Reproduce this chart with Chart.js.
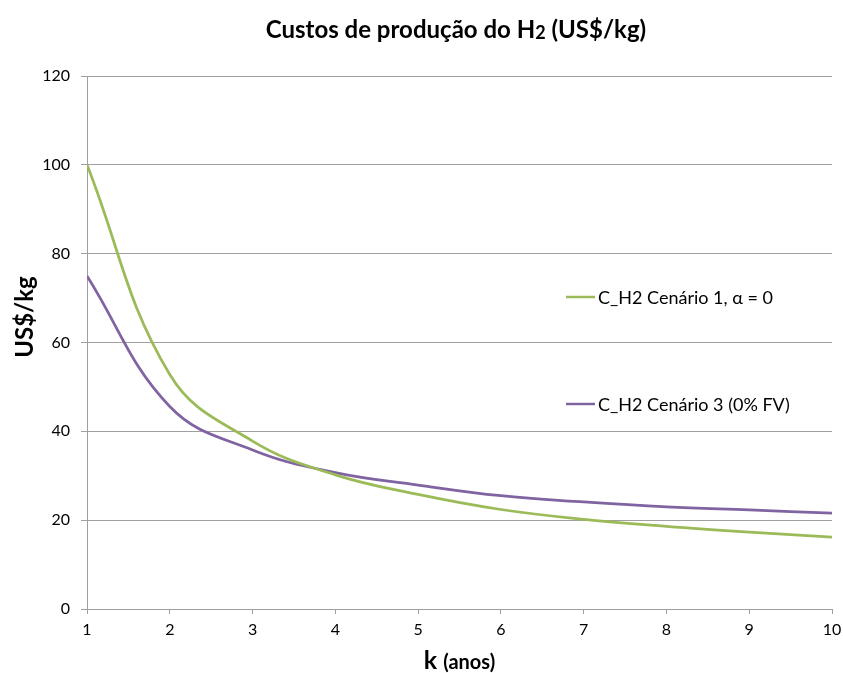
<!DOCTYPE html>
<html>
<head>
<meta charset="utf-8">
<script src="https://cdn.jsdelivr.net/npm/chart.js@4"></script>
<style>
  html, body { margin: 0; padding: 0; background: #fff; }
  #wrap { width: 843px; height: 673px; }
</style>
</head>
<body>
<div id="wrap"><canvas id="chart-h2"></canvas></div>
<script>
// dados
var anos = [1, 2, 3, 4, 5, 6, 7, 8, 9, 10];
var cenario1 = [100, 52.8, 37.8, 30.2, 25.8, 22.4, 20.2, 18.6, 17.3, 16.2];
var cenario3 = [75, 45.6, 35.8, 30.7, 27.9, 25.5, 24.1, 23.0, 22.3, 21.6];
var yTicks = [0, 20, 40, 60, 80, 100, 120];

var nomes = ['C_H2 Cenário 1, α = 0', 'C_H2 Cenário 3 (0% FV)'];
var COR_VERDE = '#9BBB59';
var COR_ROXO = '#8064A2';
var FONTE = 'Lato, "Open Sans", sans-serif';

// titulo, titulos dos eixos e legenda desenhados à mão (estilo Excel)
var textos = {
    id: 'textos',
    afterDraw: function (chart) {
        var ctx = chart.ctx;
        var area = chart.chartArea;
        ctx.save();
        ctx.fillStyle = '#000';
        ctx.textBaseline = 'middle';

        // titulo com "2" menor
        var p1 = 'Custos de produção do H', p2 = '2', p3 = ' (US$/kg)';
        var fGrande = 'bold 24px ' + FONTE, fPeq = 'bold 18px ' + FONTE;
        ctx.font = fGrande;
        var w1 = ctx.measureText(p1).width, w3 = ctx.measureText(p3).width;
        ctx.font = fPeq;
        var w2 = ctx.measureText(p2).width;
        var x = 456 - (w1 + w2 + w3) / 2;
        ctx.textAlign = 'left';
        ctx.font = fGrande; ctx.fillText(p1, x, 30);
        ctx.font = fPeq; ctx.fillText(p2, x + w1, 33);
        ctx.font = fGrande; ctx.fillText(p3, x + w1 + w2, 30);

        // eixo x: "k (anos)"
        var k1 = 'k ', k2 = '(anos)';
        var fk1 = 'bold 25px ' + FONTE, fk2 = 'bold 20px ' + FONTE;
        ctx.font = fk1; var wk1 = ctx.measureText(k1).width;
        ctx.font = fk2; var wk2 = ctx.measureText(k2).width;
        var xk = (area.left + area.right) / 2 - (wk1 + wk2) / 2;
        ctx.font = fk1; ctx.fillText(k1, xk, 661);
        ctx.font = fk2; ctx.fillText(k2, xk + wk1, 663);

        // eixo y
        ctx.save();
        ctx.translate(25, 317);
        ctx.rotate(-Math.PI / 2);
        ctx.textAlign = 'center';
        ctx.font = 'bold 24px ' + FONTE;
        ctx.fillText('US$/kg', 0, 0);
        ctx.restore();

        // legenda
        var itens = chart.data.datasets;
        var ys = [297, 404];
        ctx.font = '18px ' + FONTE;
        ctx.textAlign = 'left';
        for (let i = 0; i < itens.length; i++) {
            ctx.strokeStyle = itens[i].borderColor;
            ctx.lineWidth = 2.5;
            ctx.beginPath();
            ctx.moveTo(566, ys[i]);
            ctx.lineTo(595, ys[i]);
            ctx.stroke();
            ctx.fillStyle = '#000';
            ctx.fillText(itens[i].label, 598, ys[i] + 1);
        }
        ctx.restore();
    }
};

var ctx = document.getElementById('chart-h2').getContext('2d');
var chartH2 = new Chart(ctx, {
    type: 'line',
    data: {
        datasets: [{
            label: nomes[0],
            data: anos.map(function (a, i) { return { x: a, y: cenario1[i] }; }),
            borderColor: COR_VERDE,
            borderWidth: 2.75,
            pointRadius: 0,
            tension: 0.4,
            fill: false
        }, {
            label: nomes[1],
            data: anos.map(function (a, i) { return { x: a, y: cenario3[i] }; }),
            borderColor: COR_ROXO,
            borderWidth: 2.75,
            pointRadius: 0,
            tension: 0.4,
            fill: false
        }]
    },
    options: {
        responsive: true,
        maintainAspectRatio: false,
        animation: false,
        layout: { padding: { top: 76, right: 11, left: 0, bottom: 0 } },
        plugins: {
            legend: { display: false },
            title: { display: false },
            tooltip: { enabled: false }
        },
        scales: {
            x: {
                type: 'linear',
                min: 1,
                max: 10,
                afterBuildTicks: function (scale) {
                    scale.ticks = anos.map(function (v) { return { value: v }; });
                },
                afterFit: function (scale) {
                    scale.height = 64;
                    scale.paddingLeft = 0;
                    scale.paddingRight = 0;
                },
                grid: {
                    drawOnChartArea: false,
                    drawTicks: true,
                    tickLength: 5,
                    color: '#A0A0A0'
                },
                border: { color: '#A0A0A0', width: 1 },
                ticks: {
                    color: '#000',
                    font: { family: FONTE, size: 16 },
                    padding: 6,
                    maxRotation: 0
                }
            },
            y: {
                min: 0,
                max: 120,
                afterBuildTicks: function (scale) {
                    scale.ticks = yTicks.map(function (v) { return { value: v }; });
                },
                afterFit: function (scale) {
                    scale.width = 87;
                    scale.paddingTop = 0;
                    scale.paddingBottom = 0;
                },
                grid: {
                    color: '#A0A0A0',
                    tickLength: 6,
                    lineWidth: 1
                },
                border: { color: '#A0A0A0', width: 1 },
                ticks: {
                    color: '#000',
                    font: { family: FONTE, size: 16 },
                    padding: 11
                }
            }
        }
    },
    plugins: [textos]
});
</script>
</body>
</html>
